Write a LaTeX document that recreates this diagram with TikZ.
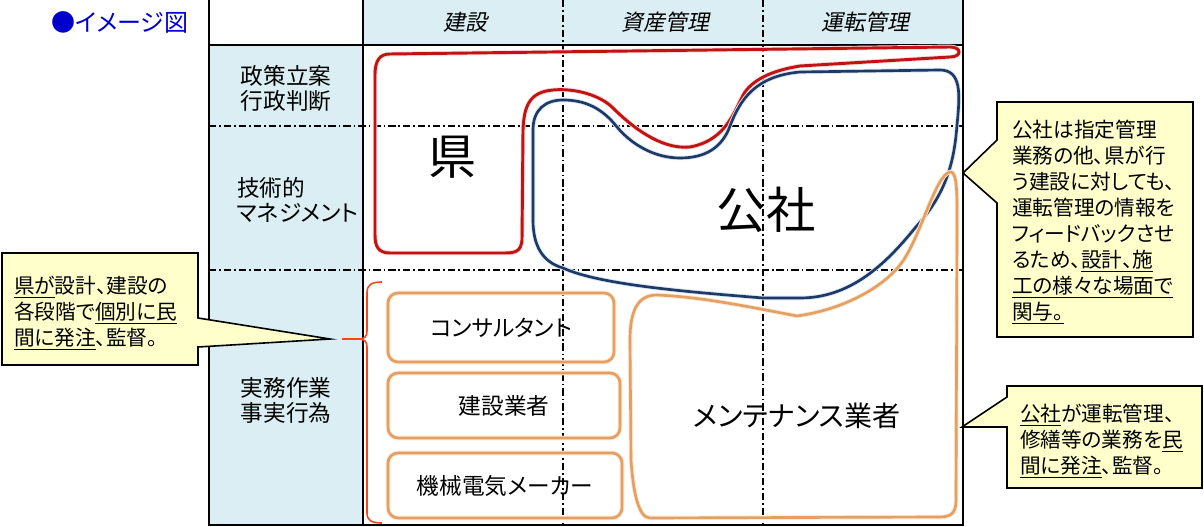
\documentclass[tikz,border=0pt]{standalone}
\usepackage{fontspec}
\setmainfont{Noto Sans CJK JP}[RawFeature=+palt]
\newfontfamily\jpit{Noto Sans CJK JP}[FakeSlant=0.2,RawFeature=+palt]
\definecolor{hdr}{RGB}{218,238,243}
\definecolor{kenred}{RGB}{192,20,20}
\definecolor{kenhalo}{RGB}{255,220,220}
\definecolor{kohblue}{RGB}{31,56,100}
\definecolor{kohhalo}{RGB}{215,232,248}
\definecolor{orng}{RGB}{228,160,100}
\definecolor{orhalo}{RGB}{253,232,208}
\definecolor{bracec}{RGB}{250,70,30}
\definecolor{callfill}{RGB}{255,255,204}
\definecolor{ttl}{RGB}{0,0,204}
\begin{document}
\begin{tikzpicture}[x=0.75pt,y=-0.75pt,
  every node/.style={inner sep=0pt,outer sep=0pt},
  tbl/.style={draw=black,line width=1.5pt},
  ddash/.style={draw=black,line width=1.1pt,dash pattern=on 5.5pt off 2.2pt on 1.3pt off 2.2pt},
  hfont/.style={font=\jpit\fontsize{16.5}{19}\selectfont},
  lfont/.style={font=\fontsize{17}{18.75}\selectfont},
  cfont/.style={font=\fontsize{15.5}{19.5}\selectfont},
  kencurve/.style={draw=kenred,line width=2.2pt,preaction={draw=kenhalo,line width=3.6pt}},
  kohcurve/.style={draw=kohblue,line width=2pt,preaction={draw=kohhalo,line width=3.4pt}},
  orcurve/.style={draw=orng,line width=2pt,preaction={draw=orhalo,line width=3.4pt}},
  obox/.style={draw=orng,line width=2pt,rounded corners=7.5pt,preaction={draw=orhalo,line width=3.4pt},font=\fontsize{17}{20}\selectfont},
  callout/.style={draw=black,line width=1.2pt,fill=callfill,line join=miter},
  bracestyle/.style={draw=bracec,line width=1.2pt}
]
\useasboundingbox (0,0) rectangle (1204,527);

% fills
\fill[hdr] (363,0) rectangle (963,45);
\fill[hdr] (209,45) rectangle (363,525);

% dash-dot grid
\draw[ddash] (209,126) -- (963,126);
\draw[ddash] (209,270) -- (963,270);
\draw[ddash] (563,0) -- (563,525);
\draw[ddash] (763,0) -- (763,525);

% table borders
\draw[tbl] (209,0) -- (209,525) -- (963,525) -- (963,0);
\draw[tbl] (363,0) -- (363,525);
\draw[tbl] (209,45) -- (963,45);

% title
\node[font=\fontsize{18}{20}\selectfont,text=ttl] (title) at (120,22) {●イメージ図};

% header
\node[hfont] (h1) at (465,22) {建設};
\node[hfont] (h2) at (665,22) {資産管理};
\node[hfont] (h3) at (865,22) {運転管理};

% row labels
\node[lfont,align=center] (r1) at (286,88) {政策立案\\行政判断};
\node[lfont,align=left,anchor=west] (r2) at (237,200) {技術的\\マネジメント};
\node[lfont,align=center] (r3) at (286,400) {実務作業\\事実行為};

% Ken (red) region
\draw[kencurve] (390,54) -- (950,47) .. controls (962,47) and (962,57) .. (950,57)
  -- (800,66) .. controls (775,70) and (755,78) .. (745,92)
  .. controls (735,108) and (728,140) .. (690,147)
  .. controls (660,150) and (630,125) .. (613,108)
  .. controls (600,95) and (575,88) .. (553,90)
  .. controls (530,92) and (524,105) .. (523,130)
  -- (522,240) .. controls (521,251) and (516,253) .. (505,253)
  -- (390,253) .. controls (378,253) and (375,246) .. (375,235)
  -- (375,75) .. controls (375,60) and (380,54) .. (390,54) -- cycle;

% Kosha (blue) region
\draw[kohcurve] (563,100) .. controls (585,100) and (602,108) .. (617,127)
  .. controls (632,145) and (655,158) .. (680,158)
  .. controls (705,158) and (722,148) .. (730,126)
  .. controls (740,100) and (755,76) .. (800,72)
  -- (940,70) .. controls (962,70) and (960,95) .. (957,125)
  .. controls (954,165) and (945,195) .. (915,228)
  .. controls (885,265) and (850,298) .. (800,298)
  -- (763,298) .. controls (690,292) and (600,285) .. (563,268)
  .. controls (542,262) and (533,245) .. (533,220)
  -- (533,130) .. controls (533,110) and (545,100) .. (563,100) -- cycle;

% maintenance (orange) region
\draw[orcurve] (657,295) .. controls (700,297) and (740,305) .. (797,316)
  .. controls (840,310) and (880,290) .. (900,265)
  .. controls (920,240) and (935,175) .. (950,172)
  .. controls (958,170) and (957,200) .. (957,230)
  -- (956,500) .. controls (956,512) and (952,517) .. (940,517)
  -- (650,518) .. controls (638,518) and (633,490) .. (631,460)
  -- (630,340) .. controls (630,310) and (638,295) .. (657,295) -- cycle;

% brace
\coordinate (btip) at (342,339);
\draw[bracestyle] (382,282) .. controls (371,282) and (367,285) .. (367,293)
  -- (367,331) .. controls (367,337) and (364,339) .. (359,339) -- (btip);
\draw[bracestyle] (359,339) .. controls (364,339) and (367,341) .. (367,347)
  -- (367,513) .. controls (367,520) and (371,523) .. (382,523);

% contractor boxes
\node[obox,minimum width=169.5pt,minimum height=51.75pt] (b1) at (501,327.5) {コンサルタント};
\node[obox,minimum width=174pt,minimum height=48.75pt] (b2) at (504,405.5) {建設業者};
\node[obox,minimum width=175.5pt,minimum height=48.75pt] (b3) at (505,485.5) {機械電気メーカー};

% big labels
\node[font=\fontsize{36}{40}\selectfont] (ken) at (452,157) {県};
\node[font=\fontsize{37}{40}\selectfont] (kosha) at (766,210) {公社};
\node[font=\fontsize{21}{24}\selectfont] (maint) at (797,416) {メンテナンス業者};

% callouts
\draw[callout] (2,253) -- (198,253) -- (198,318) -- (330,339) -- (198,347) -- (198,365) -- (2,365) -- cycle;
\node[cfont,align=left,anchor=west] (c1) at (14,313) {\underline{県が}設計、建設の\\各段階で\underline{個別に民}\\\underline{間に発注}、監督。};

\draw[callout] (997,102) -- (1193,102) -- (1193,337) -- (997,337) -- (997,203) -- (963,173) -- (997,140) -- cycle;
\node[cfont,align=left,anchor=west] (c2) at (1012,222) {公社は指定管理\\業務の他、県が行\\う建設に対しても、\\運転管理の情報を\\フィードバックさせ\\るため、\underline{設計、施}\\\underline{工の様々な場面で}\\\underline{関与。}};

\draw[callout] (1007,386) -- (1202,386) -- (1202,488) -- (1007,488) -- (1007,427) -- (962,427) -- (1007,397) -- cycle;
\node[cfont,align=left,anchor=west] (c3) at (1020,441) {\underline{公社}が運転管理、\\修繕等の業務を\underline{民}\\\underline{間に発注}、監督。};
\end{tikzpicture}
\end{document}
